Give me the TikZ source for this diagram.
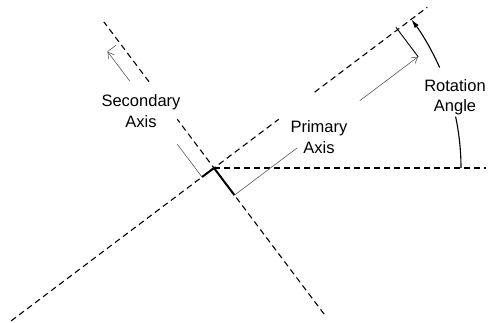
\documentclass[tikz,border=0pt]{standalone}
\usepackage{fontspec}
\setmainfont{Liberation Sans}
\usetikzlibrary{arrows.meta,calc}
\begin{document}
\begin{tikzpicture}[x=1pt,y=1pt,
  axisline/.style={line width=1.1pt, dash pattern=on 6pt off 4pt},
  rootbar/.style={line width=2pt},
  dimline/.style={line width=0.6pt, draw=black!65},
  dimtip/.style={-{Straight Barb[length=6pt,width=7pt]}},
  anglearc/.style={line width=1.1pt},
  lbl/.style={align=center, font=\fontsize{16.5}{20.5}\selectfont, inner sep=0pt}
]
\useasboundingbox (-214,-155) rectangle (274,168);
\def\th{37}
% origin and reference direction
\coordinate (O) at (0,0);
\coordinate (H) at (272,0);
% primary axis (angle \th), interrupted by its label
\coordinate (P1) at (180+\th:254);
\coordinate (P2) at (\th:81);
\coordinate (P3) at (\th:126);
\coordinate (P4) at (\th:267);
% secondary axis (perpendicular), interrupted by its label
\coordinate (S1) at (\th-90:183);
\coordinate (S2) at (\th+90:61);
\coordinate (S3) at (\th+90:108);
\coordinate (S4) at (\th+90:183);
% bases of the two dimension lines
\coordinate (A) at (180+\th:15);
\coordinate (B) at (\th-90:34);
% secondary dimension line
\coordinate (D1) at ($(A)+(\th+90:41)$);
\coordinate (D2) at ($(A)+(\th+90:120)$);
\coordinate (D3) at ($(A)+(\th+90:157)$);
\coordinate (E2) at ($(D3)+(\th:10.5)$);
% primary dimension line
\coordinate (C1) at ($(B)+(\th:78)$);
\coordinate (C2) at ($(B)+(\th:157)$);
\coordinate (C3) at ($(B)+(\th:230)$);
\coordinate (F2) at ($(C3)+(\th+90:37)$);
% rotation angle arc
\coordinate (R0) at (0:247);
\coordinate (R1) at (24:247);

% axes
\draw[axisline] (P1) -- (P2);
\draw[axisline] (P3) -- (P4);
\draw[axisline] (S1) -- (S2);
\draw[axisline] (S3) -- (S4);
\draw[axisline] (O) -- (H);

% solid bases
\draw[rootbar] (O) -- (A);
\draw[rootbar] (O) -- (B);

% dimension lines
\draw[dimline] (A) -- (D1);
\draw[dimline, dimtip] (D2) -- (D3);
\draw[dimline] (D3) -- (E2);
\draw[dimline] (B) -- (C1);
\draw[dimline, dimtip] (C2) -- (C3);
\draw[line width=0.9pt] (C3) -- (F2);

% rotation angle
\draw[anglearc] (R0) arc[start angle=0, end angle=12, radius=247];
\draw[anglearc, -{Latex[length=9pt,width=5pt]}] (R1) arc[start angle=24, end angle=\th, radius=247];

% labels
\node[lbl] (sec) at (-73,57) {Secondary\\Axis};
\node[lbl] (pri) at (105,31) {Primary\\Axis};
\node[lbl] (rot) at (241,71) {Rotation\\Angle};
\end{tikzpicture}
\end{document}
